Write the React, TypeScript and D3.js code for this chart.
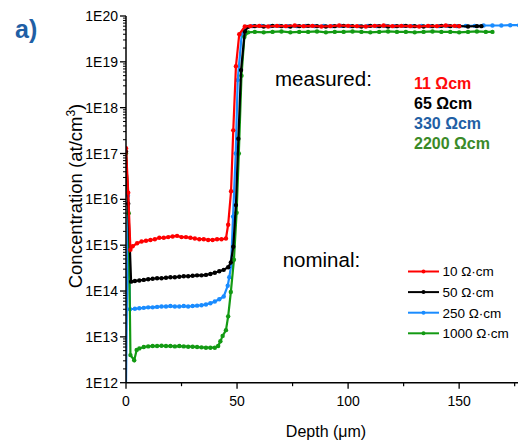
import React from "react";
import * as d3 from "d3";

// ---- data ----
const redDepth = [0,1,2,3,5,7,9,11,13,15,17,19,21,23,25,27,29,31,33,35,37,39,41,43,45,46,47.3,48.3,49.5,51,53.5,
  56,60,64,68,72,76,80,84,88,92,96,100,104,108,112,116,120,124,128,132,136,140,144,148,150];
const redConc = [1.3e17,1.4e16,8e14,9.5e14,1.1e15,1.2e15,1.25e15,1.3e15,1.35e15,1.45e15,1.45e15,1.5e15,1.55e15,1.6e15,1.5e15,1.5e15,1.45e15,1.4e15,1.35e15,1.35e15,1.3e15,1.3e15,1.35e15,1.35e15,1.4e15,2.8e15,1.5e16,3.2e17,8e18,4e19,5.9e19,
  6.0e19,6.1e19,5.9e19,6.1e19,6.0e19,6.2e19,6.0e19,6.1e19,5.9e19,6.0e19,6.2e19,6.1e19,6.0e19,5.9e19,6.1e19,6.2e19,6.0e19,6.1e19,6.0e19,5.9e19,6.1e19,6.0e19,6.2e19,6.1e19,6.0e19];

const blackDepth = [0,1,2.3,4,6,8,10,12,14,16,18,20,22,24,26,28,30,32,34,36,38,40,42,44,46,47.2,48.3,49.5,50.6,51.8,53.5,55,
  58,62,66,70,74,78,82,86,90,94,98,102,106,110,114,118,122,126,130,134,138,142,146,150,154,158,160];
const blackConc = [1.1e17,8e15,1.6e14,1.65e14,1.7e14,1.75e14,1.8e14,1.85e14,1.9e14,1.9e14,1.95e14,2.0e14,2.0e14,2.05e14,2.1e14,2.1e14,2.15e14,2.2e14,2.2e14,2.25e14,2.35e14,2.5e14,2.7e14,2.9e14,3.3e14,4.2e14,9.3e14,7.5e15,2.1e17,6.6e18,4.6e19,5.8e19,
  6.0e19,5.9e19,6.1e19,6.0e19,5.9e19,6.0e19,6.1e19,6.0e19,5.9e19,6.0e19,6.1e19,6.0e19,5.9e19,6.1e19,6.0e19,5.9e19,6.0e19,6.1e19,6.0e19,5.9e19,6.0e19,6.1e19,6.0e19,6.0e19,5.9e19,6.0e19,6.0e19];

const blueDepth = [0,0.9,1.8,4,6,8,10,12,14,16,18,20,22,24,26,28,30,32,34,36,38,40,42,44,45.8,46.5,47.3,48.2,49.4,50.3,52.1,54,
  57,61,65,69,73,77,81,85,89,93,97,101,105,109,113,117,121,125,129,133,137,141,145,149,153,157,161,165,169,173,177];
const blueConc = [8e11,1.2e16,4e13,4.1e13,4.2e13,4.3e13,4.4e13,4.4e13,4.5e13,4.6e13,4.6e13,4.7e13,4.6e13,4.6e13,4.7e13,4.6e13,4.7e13,4.8e13,4.9e13,5.1e13,5.4e13,5.9e13,6.6e13,7.6e13,1.3e14,2.0e14,3.5e14,4.2e15,1e17,4e18,3.9e19,5.8e19,
  6.0e19,6.1e19,6.0e19,6.1e19,6.0e19,6.0e19,6.1e19,6.0e19,6.1e19,6.0e19,6.1e19,6.0e19,6.0e19,6.1e19,6.0e19,6.1e19,6.0e19,6.1e19,6.0e19,6.1e19,6.0e19,6.0e19,6.1e19,6.0e19,6.1e19,6.1e19,6.2e19,6.2e19,6.2e19,6.3e19,6.3e19];

const greenDepth = [0,1.2,2,3.7,4.8,6,8,10,12,14,16,18,20,22,24,26,28,30,32,34,36,38,40,41.5,42.5,43.5,45,46,47.2,48.6,49.8,50.8,52,53.3,55,
  58,62,66,70,74,78,82,86,90,94,98,102,106,110,114,118,122,126,130,134,138,142,146,150,154,158,162,165];
const greenConc = [1e17,5e15,4e12,3.1e12,5.2e12,5.6e12,6.0e12,6.2e12,6.3e12,6.3e12,6.4e12,6.3e12,6.3e12,6.2e12,6.3e12,6.2e12,6.1e12,6.1e12,6.0e12,5.9e12,5.8e12,5.8e12,5.8e12,6.3e12,8e12,1.05e13,1.4e13,2.8e13,9.5e13,4.8e14,5.1e15,1e17,5e18,3.5e19,4.4e19,
  4.5e19,4.4e19,4.5e19,4.6e19,4.4e19,4.5e19,4.5e19,4.6e19,4.4e19,4.5e19,4.5e19,4.6e19,4.5e19,4.4e19,4.5e19,4.6e19,4.5e19,4.5e19,4.4e19,4.5e19,4.6e19,4.5e19,4.5e19,4.4e19,4.5e19,4.6e19,4.5e19,4.5e19];

const nominalLabels = ["10 Ω·cm", "50 Ω·cm", "250 Ω·cm", "1000 Ω·cm"];
const measuredLabels = ["11 Ωcm", "65 Ωcm", "330 Ωcm", "2200 Ωcm"];
const yTickLabels = ["1E12","1E13","1E14","1E15","1E16","1E17","1E18","1E19","1E20"];
const xTicks = [0, 50, 100, 150];
const xMinorTicks = [25, 75, 125, 175];

const lineColors = ["#ff0000", "#000000", "#1a8cff", "#139a13"];
const measuredColors = ["#ff0a0a", "#000000", "#1f5fa5", "#3a8a28"];

const FONT = "'Liberation Sans', Arial, sans-serif";

export default function App() {
  const left = 126, right = 518, top = 16, bottom = 382.7;
  const x = d3.scaleLinear().domain([0, 176.5]).range([left, right]);
  const y = d3.scaleLog().domain([1e12, 1e20]).range([bottom, top]);

  const series = [
    { d: blueDepth, c: blueConc, color: lineColors[2] },
    { d: greenDepth, c: greenConc, color: lineColors[3] },
    { d: blackDepth, c: blackConc, color: lineColors[1] },
    { d: redDepth, c: redConc, color: lineColors[0] },
  ];

  const line = d3.line<[number, number]>().x(p => x(p[0])).y(p => y(p[1]));

  const minorY: number[] = [];
  for (let e = 12; e < 20; e++) for (let m = 2; m <= 9; m++) minorY.push(m * Math.pow(10, e));

  return (
    <svg width={518} height={440} style={{ position: "absolute", left: 0, top: 0, background: "#fff" }}>
      <defs>
        <clipPath id="plot">
          <rect x={left} y={top - 4} width={right - left} height={bottom - top + 4} />
        </clipPath>
      </defs>
      <text x={15} y={38} fontFamily={FONT} fontWeight="bold" fontSize={25} fill="#1f5fa5">a)</text>

      <g clipPath="url(#plot)">
        {series.map((s, i) => {
          const pts = s.d.map((dv, k) => [dv, s.c[k]] as [number, number]);
          return (
            <g key={i}>
              <path d={line(pts) || ""} fill="none" stroke={s.color} strokeWidth={2.2} />
              {pts.map((p, k) => (
                <circle key={k} cx={x(p[0])} cy={y(p[1])} r={2.2} fill={s.color} />
              ))}
            </g>
          );
        })}
      </g>

      {/* axes */}
      <line x1={left} x2={left} y1={top} y2={bottom} stroke="#000" strokeWidth={1.5} />
      <line x1={left} x2={right} y1={bottom} y2={bottom} stroke="#000" strokeWidth={1.5} />
      {yTickLabels.map((lab, i) => {
        const v = Math.pow(10, 12 + i);
        return (
          <g key={lab}>
            <line x1={left - 6} x2={left} y1={y(v)} y2={y(v)} stroke="#000" strokeWidth={1.3} />
            <text x={118} y={y(v)} dy="0.36em" textAnchor="end" fontFamily={FONT} fontSize={14} fill="#000">{lab}</text>
          </g>
        );
      })}
      {minorY.map((v, i) => (
        <line key={i} x1={left - 3} x2={left} y1={y(v)} y2={y(v)} stroke="#000" strokeWidth={1} />
      ))}
      {xTicks.map(t => (
        <g key={t}>
          <line x1={x(t)} x2={x(t)} y1={bottom} y2={bottom + 6} stroke="#000" strokeWidth={1.3} />
          <text x={x(t)} y={406} textAnchor="middle" fontFamily={FONT} fontSize={14} fill="#000">{t}</text>
        </g>
      ))}
      {xMinorTicks.map(t => (
        <line key={t} x1={x(t)} x2={x(t)} y1={bottom} y2={bottom + 3.5} stroke="#000" strokeWidth={1.2} />
      ))}

      <text x={326} y={437} textAnchor="middle" fontFamily={FONT} fontSize={16} fill="#000">Depth (μm)</text>
      <text transform="translate(82,196) rotate(-90)" textAnchor="middle" fontFamily={FONT} fontSize={18.5} fill="#000">
        Concentration (at/cm<tspan baselineShift="super" fontSize={12}>3</tspan>)
      </text>

      <text x={275} y={86} fontFamily={FONT} fontSize={20.5} fill="#000">measured:</text>
      {measuredLabels.map((lab, i) => (
        <text key={lab} x={414} y={89.3 + i * 20} fontFamily={FONT} fontWeight="bold" fontSize={16} fill={measuredColors[i]}>{lab}</text>
      ))}

      <text x={282.7} y={266.7} fontFamily={FONT} fontSize={20.5} fill="#000">nominal:</text>
      {nominalLabels.map((lab, i) => {
        const ly = 271.5 + i * 20.6;
        return (
          <g key={lab}>
            <line x1={408} x2={439} y1={ly} y2={ly} stroke={lineColors[i]} strokeWidth={2} />
            <circle cx={423.5} cy={ly} r={2} fill={lineColors[i]} />
            <text x={442.5} y={ly} dy="0.36em" fontFamily={FONT} fontSize={13.5} fill="#000">{lab}</text>
          </g>
        );
      })}
    </svg>
  );
}
